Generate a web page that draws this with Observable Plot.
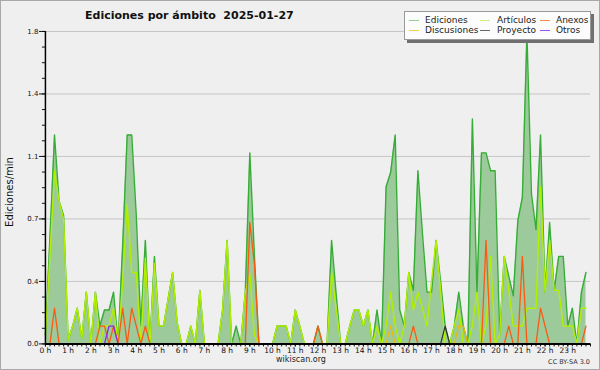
<!DOCTYPE html>
<html>
<head>
<meta charset="utf-8">
<script src="https://cdn.jsdelivr.net/npm/d3@7"></script>
<script src="https://cdn.jsdelivr.net/npm/@observablehq/plot@0.6"></script>
<style>
html,body{margin:0;padding:0;background:#efefef;}
#wrap{position:relative;width:600px;height:370px;box-sizing:border-box;border:1px solid #a8a8a8;background:#efeff0;font-family:"DejaVu Sans",sans-serif;overflow:hidden;color:#111;}
#chart{position:absolute;left:-1px;top:-1px;}
.t{position:absolute;white-space:nowrap;line-height:1;}
#title{left:84px;top:9px;font-size:11px;font-weight:bold;}
#ylab{left:-41px;top:186px;width:100px;text-align:center;font-size:10px;transform:rotate(-90deg);}
#site{left:250px;top:355px;width:100px;text-align:center;font-size:8px;color:#222;}
#cc{right:9px;top:358px;font-size:6.5px;color:#333;}
#legend{position:absolute;left:403px;top:10px;width:185px;height:27px;background:#fcfcfc;border:1px solid #999;box-shadow:3px 3px 0 #707070;}
.lt{position:absolute;font-size:9px;line-height:1;white-space:nowrap;color:#222;}
.ll{position:absolute;height:1px;width:10px;}
</style>
</head>
<body>
<div id="wrap">
  <div id="chart"></div>
  <div class="t" id="title">Ediciones por ámbito&nbsp;&nbsp;2025-01-27</div>
  <div class="t" id="ylab">Ediciones/min</div>
  <div class="t" id="site">wikiscan.org</div>
  <div class="t" id="cc">CC BY-SA 3.0</div>
  <div id="legend"></div>
</div>
<script>
// 12-minute bins over the day (bin index 0..119)
const ediciones = [
  0.05,0.6,1.17,0.8,0.72,0.02,0.1,0.2,0.03,0.29,
  0,0.29,0.1,0.19,0.19,0.29,0,0.55,1.17,1.17,
  0.72,0.1,0.58,0,0.49,0.1,0.1,0.25,0.4,0.12,
  0,0,0.1,0,0.3,0,0,0,0,0.19,
  0.58,0,0.1,0,0.29,1.07,0.5,0,0,0,
  0,0.1,0.1,0.1,0,0.19,0.1,0,0,0,
  0.1,0,0,0.58,0.28,0,0,0.1,0.19,0.19,
  0.1,0.19,0,0.19,0,0.88,0.96,1.17,0.19,0.1,
  0.4,0.3,0.97,0.62,0.29,0.29,0.58,0.35,0.1,0,
  0.1,0.29,0.1,0,1.26,0.29,1.07,1.07,0.97,0.97,
  0.05,0.49,0.38,0.27,0.69,0.82,1.74,0.84,0.64,1.17,
  0.29,0.68,0.3,0.49,0.49,0.1,0.2,0,0.29,0.4
];
const articulos = [
  0.05,0.5,0.97,0.8,0.7,0.02,0.1,0.2,0.03,0.29,
  0,0.29,0,0.1,0.1,0.2,0,0.35,0.78,0.4,
  0.4,0,0.48,0,0.45,0.1,0.1,0.25,0.4,0.12,
  0,0,0.1,0,0.3,0,0,0,0,0.19,
  0.58,0,0,0,0.29,0.39,0.05,0,0,0,
  0,0.1,0.1,0.1,0,0.19,0.1,0,0,0,
  0,0,0,0.4,0.2,0,0,0.1,0.19,0.19,
  0.1,0.19,0,0.1,0,0.1,0.29,0.1,0,0.1,
  0.4,0.19,0.29,0.2,0.1,0.35,0.58,0.3,0,0,
  0.1,0.19,0,0,0.1,0.29,0,0.1,0.49,0,
  0.05,0.49,0.3,0.1,0.1,0.1,0.2,0.2,0.2,0.88,
  0.29,0.58,0.3,0.3,0.1,0.1,0.1,0,0.2,0.2
];
// sparse series: [bin index, value]; all other bins are 0
const anexos = [[2,0.2],[12,0.1],[13,0.1],[15,0.1],[17,0.2],[19,0.2],[20,0.1],[22,0.1],
  [45,0.68],[46,0.45],[60,0.1],[81,0.1],[97,0.58],[102,0.1],[105,0.49],[109,0.2],[110,0.1],[119,0.1]];
const discusiones = [[76,0.1],[91,0.1],[92,0.1]];
const proyecto = [[88,0.1]];
const otros = [[14,0.1],[15,0.1]];

const yMajor = [0, 0.35, 0.7, 1.05, 1.4, 1.75];
const yLabels = ["0.0","0.4","0.7","1.1","1.4","1.8"];
const hourLabels = ["0 h","1 h","2 h","3 h","4 h","5 h","6 h","7 h","8 h","9 h","10 h","11 h",
  "12 h","13 h","14 h","15 h","16 h","17 h","18 h","19 h","20 h","21 h","22 h","23 h"];

const legendItems = [
  {name:"Ediciones", color:"#8fd28f"},
  {name:"Artículos", color:"#cdf27a"},
  {name:"Anexos", color:"#f3894f"},
  {name:"Discusiones", color:"#f5d04c"},
  {name:"Proyecto", color:"#666666"},
  {name:"Otros", color:"#9a55ee"}
];

const binMinutes = 12;
const nBins = ediciones.length;
function expand(pairs) {
  const a = new Array(nBins).fill(0);
  for (const [i, v] of pairs) a[i] = v;
  return a;
}
const anx = expand(anexos), dis = expand(discusiones), pro = expand(proyecto), otr = expand(otros);
const rows = ediciones.map((v, i) => ({
  t: i * binMinutes / 60,
  ed: v, art: articulos[i], anx: anx[i], dis: dis[i], pro: pro[i], otr: otr[i]
}));

const hourTicks = hourLabels.map((_, i) => i);
const xMinor = d3.range(0, 24 * 60 + 1, binMinutes).map(m => m / 60);
const yMinor = d3.range(0, 21).map(k => k * 0.0875);

const chart = Plot.plot({
  width: 600,
  height: 370,
  marginLeft: 45,
  marginRight: 9,
  marginTop: 31,
  marginBottom: 26,
  style: {background: "transparent", fontFamily: "DejaVu Sans", overflow: "visible"},
  x: {domain: [0, 24]},
  y: {domain: [0, 1.75]},
  marks: [
    Plot.gridY(yMajor, {stroke: "#c6c6c6", strokeOpacity: 1, strokeWidth: 1}),
    Plot.areaY(rows, {x: "t", y: "ed", fill: "#9dca9a", fillOpacity: 1}),
    Plot.lineY(rows, {x: "t", y: "ed", stroke: "#36ad36", strokeWidth: 1.4}),
    Plot.lineY(rows, {x: "t", y: "art", stroke: "#b2ef00", strokeWidth: 1.4}),
    Plot.lineY(rows, {x: "t", y: "dis", stroke: "#f0b800", strokeWidth: 1.2}),
    Plot.lineY(rows, {x: "t", y: "pro", stroke: "#333333", strokeWidth: 1.2}),
    Plot.lineY(rows, {x: "t", y: "anx", stroke: "#fa5a12", strokeWidth: 1.3}),
    Plot.lineY(rows, {x: "t", y: "otr", stroke: "#8a2be2", strokeWidth: 1.3}),
    Plot.axisY(yMinor, {tickSize: 3, text: null, label: null}),
    Plot.axisY(yMajor, {tickSize: 6, tickPadding: 1, fontSize: 7, label: null,
      tickFormat: d => yLabels[yMajor.indexOf(d)]}),
    Plot.axisX(xMinor, {tickSize: 3, text: null, label: null}),
    Plot.axisX(hourTicks, {tickSize: 3, tickPadding: 1, fontSize: 7.5, label: null,
      tickFormat: d => hourLabels[d]}),
    Plot.ruleY([0], {stroke: "#000", strokeWidth: 2}),
    Plot.ruleX([0], {stroke: "#000", strokeWidth: 1.5})
  ]
});
document.getElementById("chart").appendChild(chart);

// legend
const lg = document.getElementById("legend");
const colX = [[4, 20], [75, 92], [135, 151]];   // [line x, text x] within legend box
const rowY = [4, 14];                            // text top within legend box
legendItems.forEach((it, k) => {
  const c = k % 3, r = Math.floor(k / 3);
  const ln = document.createElement("div");
  ln.className = "ll";
  ln.style.left = colX[c][0] + "px";
  ln.style.top = (rowY[r] + 4) + "px";
  ln.style.background = it.color;
  lg.appendChild(ln);
  const tx = document.createElement("div");
  tx.className = "lt";
  tx.style.left = colX[c][1] + "px";
  tx.style.top = rowY[r] + "px";
  tx.textContent = it.name;
  lg.appendChild(tx);
});
</script>
</body>
</html>
